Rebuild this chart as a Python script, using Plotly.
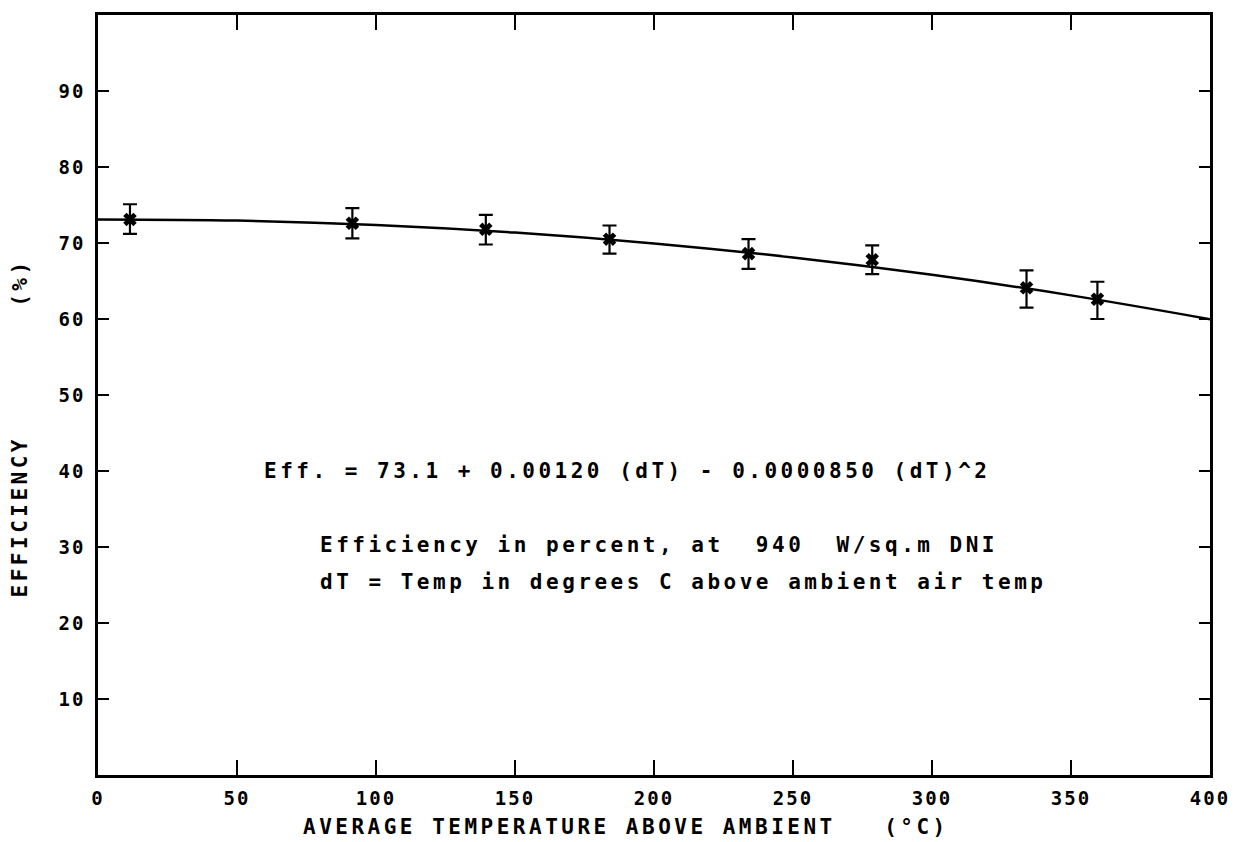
import plotly.graph_objects as go

temp_dT = [11.5, 91.5, 139.5, 184, 234, 278.5, 334, 359.5]
efficiency = [73.1, 72.6, 71.8, 70.5, 68.6, 67.8, 64.1, 62.6]
err_up = [2.0, 2.0, 1.9, 1.8, 1.9, 1.9, 2.3, 2.3]
err_down = [1.9, 2.0, 2.0, 1.9, 2.0, 1.9, 2.6, 2.6]

# Fitted curve
fit_x = [0, 50, 100, 150, 200, 250, 300, 350, 400]
fit_y = [73.1, 72.95, 72.37, 71.37, 69.94, 68.09, 65.81, 63.11, 59.98]

x_ticks = [0, 50, 100, 150, 200, 250, 300, 350, 400]
y_ticks = [10, 20, 30, 40, 50, 60, 70, 80, 90]

FONT = "DejaVu Sans Mono"
NB = "\u00a0"
TXT = dict(family=FONT, size=21, color="black", weight="bold")

fig = go.Figure()
fig.add_trace(go.Scatter(
    x=fit_x, y=fit_y, mode="lines",
    line=dict(color="black", width=2.5, shape="spline"),
    hoverinfo="skip", showlegend=False))
fig.add_trace(go.Scatter(
    x=temp_dT, y=efficiency, mode="markers",
    marker=dict(symbol="x", size=12, color="black", line=dict(width=0)),
    error_y=dict(type="data", symmetric=False, array=err_up, arrayminus=err_down,
                 color="black", thickness=2.2, width=7),
    showlegend=False))

texts = [
    (59, 40, "Eff. = 73.1 + 0.00120 (dT) - 0.0000850 (dT)^2"),
    (79, 30.2, "Efficiency in percent, at " + NB + "940 " + NB + "W/sq.m DNI"),
    (79, 25.4, "dT = Temp in degrees C above ambient air temp"),
]
for x, y, t in texts:
    fig.add_annotation(x=x, y=y, text=t, showarrow=False, xanchor="left", align="left",
                       yanchor="middle", font=TXT)

# axis titles, placed as annotations to match the original positions
fig.add_annotation(xref="paper", yref="paper", x=0, y=0.457, xshift=-78,
                   text="EFFICIENCY" + NB * 8 + "(%)", textangle=-90, showarrow=False,
                   xanchor="center", yanchor="middle", font=TXT)
fig.add_annotation(xref="paper", yref="paper", x=0.475, y=0, yshift=-52,
                   text="AVERAGE TEMPERATURE ABOVE AMBIENT" + NB * 3 + "(°C)",
                   showarrow=False, xanchor="center", yanchor="middle", font=TXT)

axis_common = dict(
    showline=True, linecolor="black", linewidth=2.5, mirror="ticks",
    ticks="inside", tickcolor="black", tickwidth=2,
    showgrid=False, zeroline=False,
    tickfont=dict(family=FONT, size=19, color="black", weight="bold"),
)
fig.update_xaxes(range=[0, 400], tickvals=x_ticks, ticklen=15, ticklabelstandoff=4,
                 **axis_common)
fig.update_yaxes(range=[0, 100], tickvals=y_ticks, ticklen=11, ticklabelstandoff=6,
                 **axis_common)

fig.update_layout(
    width=1243, height=842,
    margin=dict(l=98, r=33, t=15, b=67),
    paper_bgcolor="white", plot_bgcolor="white",
)

# plotter-style wide letter spacing
post_js = """
var gd = document.getElementById('{plot_id}');
function spread() {
  gd.querySelectorAll('.annotation-text').forEach(function (t) {
    t.style.letterSpacing = '3.5px';
  });
  gd.querySelectorAll('.xtick text, .ytick text').forEach(function (t) {
    t.style.letterSpacing = '2px';
  });
}
spread();
gd.on('plotly_afterplot', spread);
"""

fig.write_html("out.html", post_script=post_js)
